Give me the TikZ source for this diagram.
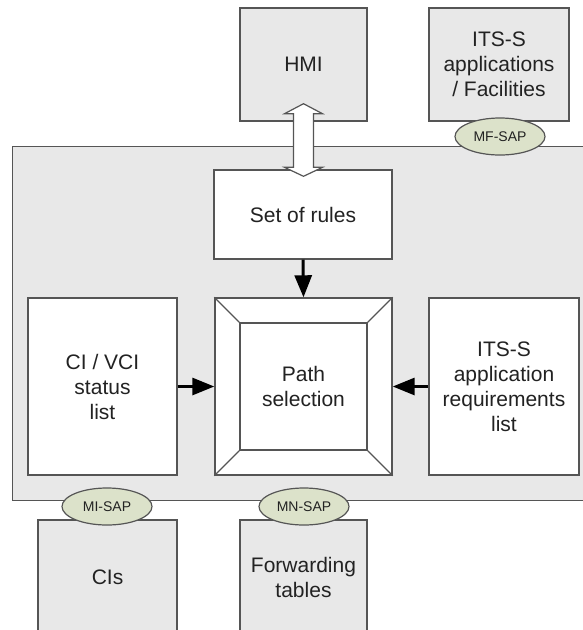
\documentclass[tikz,border=0pt]{standalone}
\usepackage{fontspec}
\setmainfont{Liberation Sans}
\usetikzlibrary{arrows.meta,calc,shapes.geometric}
\definecolor{bdr}{HTML}{555555}
\definecolor{panel}{HTML}{E8E8E8}
\definecolor{sap}{HTML}{DCE2CA}
\definecolor{txt}{HTML}{222222}
\tikzset{
  box/.style={draw=bdr,line width=1.4pt,fill=panel,inner sep=0pt,align=center,text=txt,
    font=\fontsize{21}{25}\selectfont},
  wbox/.style={box,fill=white},
  sapnode/.style={ellipse,draw=bdr,line width=1.2pt,fill=sap,inner sep=0pt,
    minimum width=90pt,minimum height=37pt,text=txt,font=\fontsize{14}{16}\selectfont},
  flow/.style={line width=3pt,black,-{Triangle[length=22pt,width=17pt]}},
  dbl/.style={draw=bdr,line width=1.2pt,fill=white,line join=miter}
}
\begin{document}
\begin{tikzpicture}[x=1pt,y=-1pt]
\useasboundingbox (0,0) rectangle (583,630);
\clip (0,0) rectangle (583,630);
% main panel
\node[box,minimum width=600pt,minimum height=354pt,anchor=north west] (panel) at (12,146) {};
% upper boxes
\node[box,minimum width=127pt,minimum height=113pt] (hmi) at (303.5,64.5) {HMI};
\node[box,minimum width=140pt,minimum height=113pt] (its) at (499,64.5) {ITS-S\\applications\\/ Facilities};
% inner boxes
\node[wbox,minimum width=178pt,minimum height=89pt] (rules) at (303,214.5) {Set of rules};
\node[wbox,minimum width=149pt,minimum height=177pt] (cistat) at (102.5,386.5) {CI / VCI\\status\\list};
\node[wbox,minimum width=150pt,minimum height=177pt] (req) at (504,386.5) {ITS-S\\application\\requirements\\list};
\node[wbox,minimum width=177pt,minimum height=177pt] (path) at (303.5,386.5) {};
\node[wbox,minimum width=127pt,minimum height=127pt] (pathin) at (303.5,386.5) {Path\\selection};
\draw[bdr,line width=1.2pt] (path.north west) -- (pathin.north west)
  (path.north east) -- (pathin.north east)
  (path.south west) -- (pathin.south west)
  (path.south east) -- (pathin.south east);
% lower boxes
\node[box,minimum width=139pt,minimum height=114pt] (cis) at (107.5,577) {CIs};
\node[box,minimum width=127pt,minimum height=114pt] (fwd) at (303.5,577) {Forwarding\\tables};
% SAPs
\node[sapnode] (mf) at (500,136.5) {MF-SAP};
\node[sapnode] (mi) at (107,506.5) {MI-SAP};
\node[sapnode] (mn) at (304,506.5) {MN-SAP};
% arrows
\draw[flow] (rules.south) -- (path.north);
\draw[flow] (cistat.east) -- (path.west);
\draw[flow] (req.west) -- (path.east);
% double arrow HMI <-> rules
\draw[dbl] ($(hmi.south)+(0,-18)$) -- ++(19,10) -- ++(-9,0)
  -- ($(rules.north)+(10.5,-2)$) -- ++(9,0) -- ($(rules.north)+(0.5,7)$)
  -- ++(-19,-9) -- ++(9,0) -- ($(hmi.south)+(-10,-8)$) -- ++(-9,0) -- cycle;
\end{tikzpicture}
\end{document}
